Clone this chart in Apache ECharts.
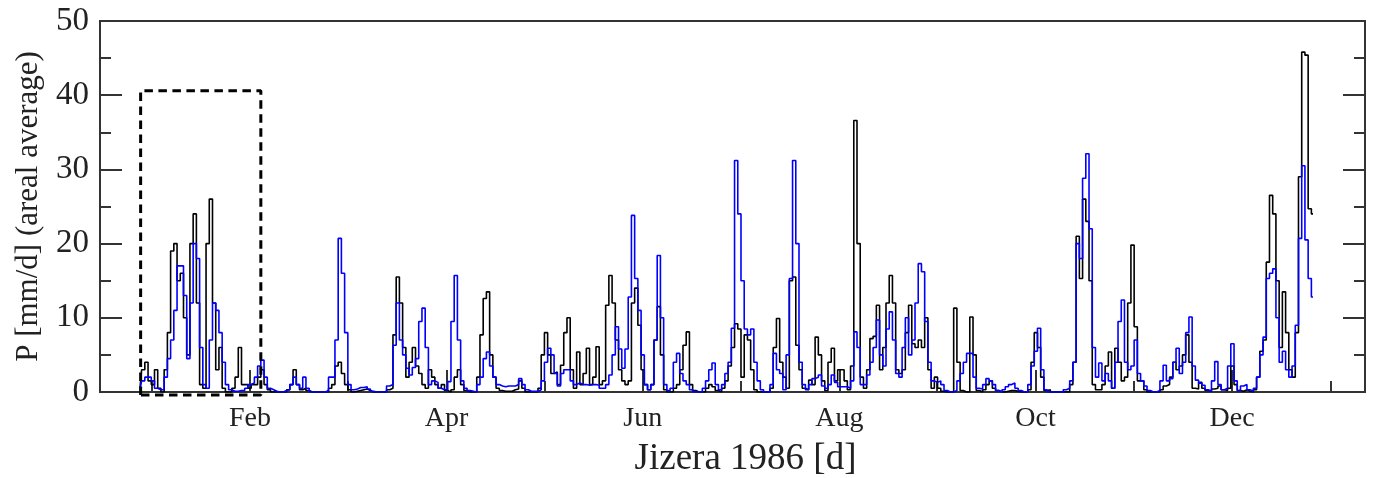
<!DOCTYPE html>
<html><head><meta charset="utf-8">
<script src="https://cdn.jsdelivr.net/npm/echarts@6/dist/echarts.min.js"></script>
<style>html,body{margin:0;padding:0;background:#fff}#c{width:1383px;height:478px}</style>
</head><body><div id="c"></div>
<script>
// daily areal precipitation, day 1..365 (black series)
const blackSeries = [
0.5,3,4,1.5,1,3,0.5,0,3,8,
19,20,15,16,10,5,20,24,12,1,
0.5,20,26,12,3,6,0.5,0,0,0.5,
2,6,1,1,0.5,1,1,2,3,1,
0.3,0,0,0,0,0,0.3,1,3,1,
0.3,0.5,0.2,0,0,0,0,0,0,0.5,
1,3.5,4,2.5,1,0.3,0,0.1,0.2,0.3,
0.4,0.2,0,0,0,0,0,0.3,0.5,7.7,
15.5,12,6,2,4,6,3.5,2.5,1,0.5,
3,2,1,0.5,1,0.2,0,0.3,2,3,
1,0.2,0,0,0,2,7.7,12.6,13.5,5,
2,0.5,0.2,0.1,0.1,0.1,0.3,0.4,1.5,0.5,
0,0,0,0,0.5,5,8,5,2.5,2.7,
1,3.6,8,10,3,0.5,5.4,1,2.5,5.9,
1,2,6.1,1,1.5,11.7,15.7,12,7,3,
1.5,1,1.5,12,14,9,3,1,0.3,1,
7,11.5,5,0.3,0,0,0.5,1,3,6.3,
8.1,1,0.2,0,0,0,0.5,1,0.7,0.2,
0,0.5,1.5,3.5,6,9.2,8.5,2,7.7,7,
3,0.3,0,0,0,0,0.5,6,9.9,4,
2,0.5,15,15.5,6.3,3,0.5,0.3,1.6,1,
7.4,5,1.5,0.2,4,5.9,1.5,3,3,1.5,
0.3,3.5,36.6,20,2,0.5,3,7.2,7.5,11.7,
3,6,12,15.7,12,3,2.5,3,8,11.7,
6.5,6,7,6,10,3,0.5,2,0.5,0.1,
0,0,0,11.3,4,0.2,0,0,10.1,5,
0.2,0,0.3,1,1.5,0.5,0.2,0,0,0.1,
0.2,0.2,0.1,0,0,0,0.3,4,8,6,
2,0.2,0.3,0,0,0,0,0,0,1,
4,21,15.3,26,23,15,1,0.3,0.3,1,
3.5,5.4,0.5,5.9,4,1.5,2,12,19.8,8.8,
1.5,1.5,0.3,0,0,0,0,0.3,0.8,1,
2,4,3,3.5,5,7.7,4,0.5,0.4,1.3,
0.5,0.2,0.1,0.4,0.5,0.8,0.3,0.2,0.5,3.5,
1,0.2,0.1,0.3,0.1,0,0.3,2,5.5,7,
17.5,26.5,24,15,6,13.5,8,3,2,8,
29,45.8,45.4,24.7,24
];
// daily areal precipitation, day 1..365 (blue series)
const blueSeries = [
0.3,1.5,2,2,1.5,0.5,0.3,0.3,2,4.5,
7,11,17,17,13,4.5,12,20,18,6,
1,0.5,7,12,11,8,4,1,0.3,0.1,
0.1,0.2,0.2,0.5,1,1.2,2,3.5,4.3,2,
0.5,0.3,0.1,0,0,0.2,0.3,1,2,1,
0.5,2,0.5,0,0,0,0,0,0.2,2,
2,7,20.7,16,8,1,0.3,0.4,0.6,0.6,
0.7,0.4,0.1,0,0,0,0,0.8,1,6.3,
12,7,5,3.2,2.3,3.3,4.5,9.5,11.3,6,
1,1.5,1.3,0.5,0.3,0.3,1.4,9.5,15.7,7,
1.5,0.5,0.2,0.1,0,1,2,4.5,5.4,3.5,
2,1,0.8,0.7,0.8,0.8,0.8,1,1.8,1,
0.3,0.1,0.1,0.1,0.3,1.5,4,5.9,5,2.5,
0.8,2.5,3,3,1.5,1,1.2,1,1,0.9,
1,1,0.9,0.5,0.5,1,2.3,5,8.8,5.8,
3.2,5.8,12.8,23.8,15.3,11,5,1,0.3,1,
7,18.4,10,1,0.2,0.5,4,5.2,2.5,1.5,
1,0.3,0,0,0,0.5,1.5,3,3.9,1,
0.3,1,2.5,4,8.6,31.2,24,15,8.5,7.7,
8.5,4,1.5,0.3,0,0,1,5.2,3,2.5,
0.3,5,15.3,31.2,20,4,1,0.3,1,1.8,
2,2.3,0.8,0.5,1,2.3,1.3,0.7,0.7,0.7,
0.5,1.5,8.1,6,1,1,2.3,4,6,9.7,
5,3.5,8.5,10.8,7,2.5,2,6,10,5,
7,12,17.3,16.2,9.5,4,1.5,1.3,1.5,1,
0.2,0,0,0.2,1.5,2.5,4,5.2,5.2,2,
0.5,0.4,1,1.8,1.5,1,0.2,0,0.3,0.7,
1,1.2,0.5,0.2,0,0,1,3.5,5.5,8.6,
3,0.3,0,0,0,0,0,0.3,0.5,1.5,
4,20,18,28.8,32.1,22,6,2,3.9,1.5,
2.5,1.5,0.5,4,9.5,12.4,4,3,3.5,7,
2.5,1.5,0.8,0.2,0,0,0.2,1.5,3.6,1.5,
1.8,4,5.9,2.5,4,8,10.1,3.5,1.6,1.2,
0.9,0.3,0.1,1.5,4.1,1,0.3,0.5,3.5,6.5,
1.5,0.2,0.8,1,0.3,0.1,0.5,2,5,7.4,
15.3,16,16.6,10,4,5.5,3,2,3.5,9,
20.7,30.5,20.5,15.3,12.8
];
const monthLabels = ['Feb','Apr','Jun','Aug','Oct','Dec'];
const majorTickDays = [35.1, 96.1, 157.0, 218.0, 278.9, 339.9];
const minorTickDays = [4.6, 65.6, 126.5, 187.5, 248.4, 309.4, 370.4];
const boxDays = [1.2, 38.5];
const boxValues = [-0.4, 40.6];

const FONT = 'Liberation Serif, Times New Roman, serif';
const AX = '#333';
const xMin = -11.41, xMax = 381.14;

const toPairs = arr => arr.map((v, i) => [i + 1, v]);
const boxPath = [
  [boxDays[0], boxValues[0]], [boxDays[0], boxValues[1]],
  [boxDays[1], boxValues[1]], [boxDays[1], boxValues[0]],
  [boxDays[0], boxValues[0]]
];

const chart = echarts.init(document.getElementById('c'), null, {renderer: 'canvas'});
chart.setOption({
  animation: false,
  backgroundColor: '#fff',
  grid: {left: 100, right: 18, top: 21, bottom: 86, containLabel: false, outerBoundsMode: 'none',
    show: true, borderColor: AX, borderWidth: 2, backgroundColor: 'transparent'},
  xAxis: [{
    type: 'value', min: xMin, max: xMax, position: 'bottom',
    axisLine: {show: true, onZero: false, lineStyle: {color: AX, width: 2}},
    axisTick: {show: true, inside: true, length: 22, customValues: majorTickDays, lineStyle: {color: AX, width: 2}},
    axisLabel: {customValues: majorTickDays, color: '#222', fontFamily: FONT, fontSize: 28, margin: 13,
      formatter: v => { const i = majorTickDays.findIndex(t => Math.abs(t - v) < 1e-6); return i >= 0 ? monthLabels[i] : ''; }},
    splitLine: {show: false},
    name: 'Jizera 1986 [d]', nameLocation: 'middle', nameGap: 49,
    nameTextStyle: {fontFamily: FONT, fontSize: 37, color: '#222', padding: [0, 0, 0, 26]}
  }, {
    type: 'value', min: xMin, max: xMax, position: 'bottom',
    axisLine: {show: false, onZero: false},
    axisTick: {show: true, inside: true, length: 11, customValues: minorTickDays, lineStyle: {color: AX, width: 2}},
    axisLabel: {show: false}, splitLine: {show: false}
  }],
  yAxis: [{
    type: 'value', min: 0, max: 50, interval: 10, position: 'left',
    axisLine: {show: true, onZero: false, lineStyle: {color: AX, width: 2}},
    axisTick: {show: true, inside: true, length: 22, lineStyle: {color: AX, width: 2}},
    minorTick: {show: true, splitNumber: 2, length: 11, lineStyle: {color: AX, width: 2}},
    axisLabel: {color: '#222', fontFamily: FONT, fontSize: 33, margin: 11},
    splitLine: {show: false},
    name: 'P [mm/d] (areal average)', nameLocation: 'middle', nameGap: 56, nameRotate: 90,
    nameTextStyle: {fontFamily: FONT, fontSize: 31, color: '#222'}
  }, {
    type: 'value', min: 0, max: 50, interval: 10, position: 'right',
    axisLine: {show: true, onZero: false, lineStyle: {color: AX, width: 2}},
    axisTick: {show: true, inside: true, length: 22, lineStyle: {color: AX, width: 2}},
    minorTick: {show: true, splitNumber: 2, length: 11, lineStyle: {color: AX, width: 2}},
    axisLabel: {show: false}, splitLine: {show: false}
  }],
  series: [{
    type: 'line', name: 'black', data: toPairs(blackSeries), step: 'middle',
    showSymbol: false, symbol: 'none', lineStyle: {color: '#000', width: 1.6}, z: 3
  }, {
    type: 'line', name: 'blue', data: toPairs(blueSeries), step: 'middle',
    showSymbol: false, symbol: 'none', lineStyle: {color: '#0000ff', width: 1.6}, z: 4
  }, {
    type: 'line', name: 'box', data: boxPath, clip: false,
    showSymbol: false, symbol: 'none', lineStyle: {color: '#000', width: 3, type: [8.5, 5.5]}, z: 5
  }]
});
</script></body></html>
